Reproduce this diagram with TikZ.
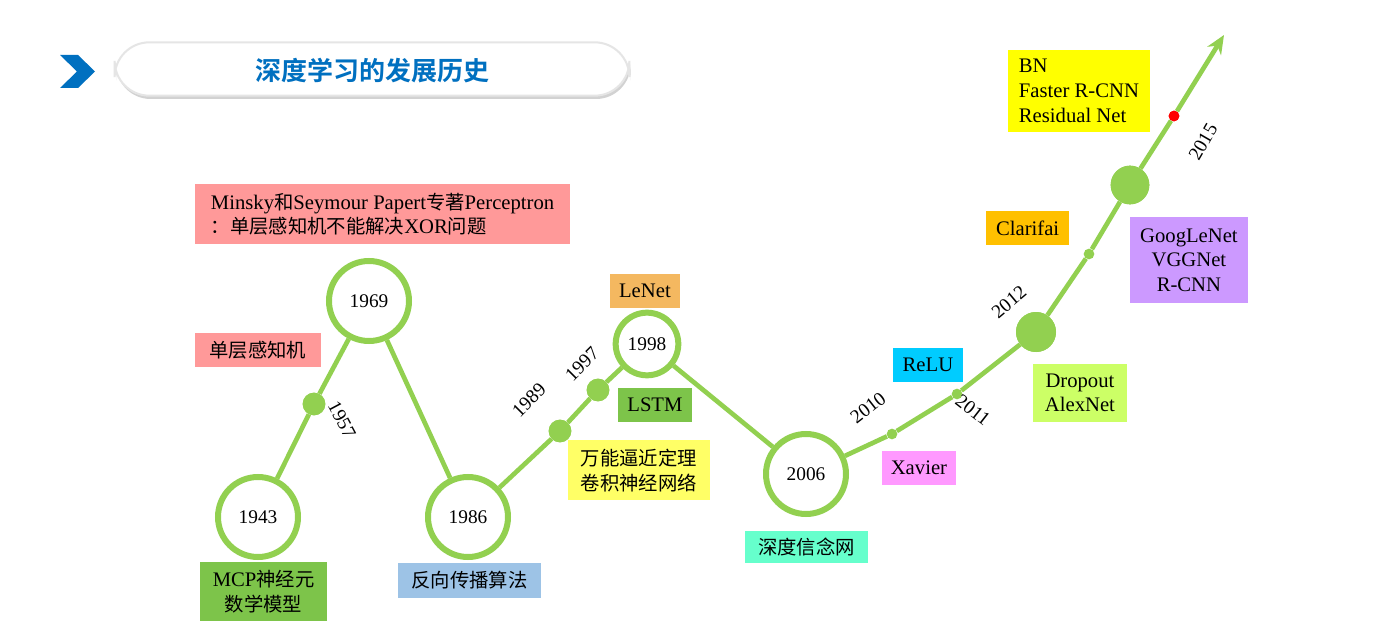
\documentclass[tikz,border=0pt]{standalone}
\usepackage{fontspec}
\setmainfont{Liberation Serif}
\newfontfamily\cjk{Noto Sans CJK SC}
\newfontfamily\cjkb{Noto Sans CJK SC Bold}
\usetikzlibrary{arrows.meta,shadows}
\definecolor{lg}{RGB}{146,208,80}
\definecolor{ttl}{RGB}{0,112,192}
\tikzset{
 ring/.style={circle,draw=lg,line width=4.5pt,fill=white,minimum size=#1,inner sep=0pt,font=\fontsize{14.5}{16}\selectfont},
 dotn/.style={circle,fill=lg,minimum size=#1,inner sep=0pt},
 lab/.style={inner sep=3pt,font=\fontsize{15.5}{18.5}\selectfont,align=center},
 clab/.style={inner sep=3pt,font=\cjk\fontsize{14.5}{18.5}\selectfont,align=center},
 yr/.style={font=\fontsize{14.5}{16}\selectfont},
 conn/.style={draw=lg,line width=3.5pt},
}
\begin{document}
\begin{tikzpicture}[x=0.75pt,y=-0.75pt]
\useasboundingbox (0,0) rectangle (1379,638);
\fill[white] (0,0) rectangle (1379,638);
% header
\fill[ttl] (60,55) -- (78,55) -- (95,71.5) -- (78,88) -- (60,88) -- (77,71.5) -- cycle;
\node[draw=gray!20,line width=1.5pt,fill=white,rounded corners=26pt,minimum width=386pt,minimum height=40pt,drop shadow={shadow xshift=1pt,shadow yshift=-2.5pt,opacity=0.35}] (hdr) at (372,69) {};
\node[text=ttl,font=\cjkb\fontsize{19.5}{22}\selectfont] (title) at (372,71) {深度学习的发展历史};
% path nodes
\node[ring=60pt] (n43) at (258,517) {1943};
\node[ring=60pt] (n69) at (369,301) {1969};
\node[ring=60pt] (n86) at (468,517) {1986};
\node[ring=47pt] (n98) at (647,344) {1998};
\node[ring=60pt] (n06) at (806,474) {2006};
\node[dotn=17pt] (d57) at (314,404) {};
\node[dotn=17pt] (d89) at (560,431) {};
\node[dotn=17pt] (d97) at (598,390) {};
\node[dotn=8pt] (d10) at (892,434) {};
\node[dotn=8pt] (d11) at (957,394) {};
\node[dotn=30pt] (d12) at (1036,332) {};
\node[dotn=8pt] (d13) at (1089,254) {};
\node[dotn=29pt] (d14) at (1130,185) {};
\node[circle,fill=red,minimum size=8pt,inner sep=0pt] (d15) at (1174,116) {};
\coordinate (tip) at (1224,35);
\draw[conn] (n43) -- (d57) -- (n69);
\draw[conn] (n69) -- (n86);
\draw[conn] (n86) -- (d89) -- (d97) -- (n98);
\draw[conn] (n98) -- (n06);
\draw[conn] (n06) -- (d10) -- (d11) -- (d12) -- (d13) -- (d14) -- (d15);
\draw[conn,-{Stealth[length=14pt,width=12pt]}] (d15) -- (tip);
\node[dotn=17pt] at (314,404) {};
\node[dotn=17pt] at (560,431) {};
\node[dotn=17pt] at (598,390) {};
\node[dotn=30pt] at (1036,332) {};
\node[dotn=29pt] at (1130,185) {};
\node[circle,fill=red,minimum size=8pt,inner sep=0pt] at (1174,116) {};
% years
\node[yr,rotate=-62] (y57) at (342,420) {1957};
\node[yr,rotate=45] (y89) at (529,400) {1989};
\node[yr,rotate=45] (y97) at (582,364) {1997};
\node[yr,rotate=38] (y10) at (868,408) {2010};
\node[yr,rotate=-38] (y11) at (973,410) {2011};
\node[yr,rotate=40] (y12) at (1009,302) {2012};
\node[yr,rotate=60] (y15) at (1203,142) {2015};
% labels
\node[lab,fill={rgb,255:red,255;green,153;blue,153},minimum width=281pt,minimum height=45pt,align=left,anchor=north west] (minsky) at (195,184) {Minsky{\cjk\fontsize{14.5}{18}\selectfont 和}Seymour Papert{\cjk\fontsize{14.5}{18}\selectfont 专著}Perceptron\\{\cjk\fontsize{14.5}{18}\selectfont ：单层感知机不能解决}XOR{\cjk\fontsize{14.5}{18}\selectfont 问题}};
\node[clab,fill={rgb,255:red,255;green,153;blue,153},minimum width=94pt,minimum height=25pt,anchor=north west] (slp) at (195,333) {单层感知机};
\node[lab,fill={rgb,255:red,125;green,196;blue,74},minimum width=95pt,minimum height=44pt,anchor=north west] (mcp) at (200,562) {MCP{\cjk\fontsize{14.5}{18}\selectfont 神经元}\\{\cjk\fontsize{14.5}{18}\selectfont 数学模型}};
\node[clab,fill={rgb,255:red,157;green,195;blue,230},minimum width=107pt,minimum height=26pt,anchor=north west] (bp) at (398,563) {反向传播算法};
\node[lab,fill={rgb,255:red,244;green,184;blue,96},minimum width=52pt,minimum height=25pt,anchor=north west] (lenet) at (610,274) {LeNet};
\node[lab,fill={rgb,255:red,125;green,196;blue,74},minimum width=55pt,minimum height=25pt,anchor=north west] (lstm) at (618,388) {LSTM};
\node[clab,fill={rgb,255:red,255;green,255;blue,102},minimum width=106pt,minimum height=45pt,anchor=north west] (uat) at (568,440) {万能逼近定理\\卷积神经网络};
\node[clab,fill={rgb,255:red,102;green,255;blue,204},minimum width=92pt,minimum height=24pt,anchor=north west] (dbn) at (745,531) {深度信念网};
\node[lab,fill={rgb,255:red,0;green,204;blue,255},minimum width=52pt,minimum height=25pt,anchor=north west] (relu) at (893,348) {ReLU};
\node[lab,fill={rgb,255:red,255;green,153;blue,255},minimum width=55pt,minimum height=25pt,anchor=north west] (xav) at (882,451) {Xavier};
\node[lab,fill={rgb,255:red,204;green,255;blue,102},minimum width=70pt,minimum height=43pt,anchor=north west] (drop) at (1033,364) {Dropout\\AlexNet};
\node[lab,fill={rgb,255:red,255;green,192;blue,0},minimum width=62pt,minimum height=25pt,anchor=north west] (clar) at (986,211) {Clarifai};
\node[lab,fill={rgb,255:red,204;green,153;blue,255},minimum width=88pt,minimum height=64pt,anchor=north west] (goog) at (1130,217) {GoogLeNet\\VGGNet\\R-CNN};
\node[lab,fill={rgb,255:red,255;green,255;blue,0},minimum width=106pt,minimum height=61pt,anchor=north west,align=left,inner xsep=6pt] (bn) at (1008,50) {BN\\Faster R-CNN\\Residual Net};
\end{tikzpicture}
\end{document}
